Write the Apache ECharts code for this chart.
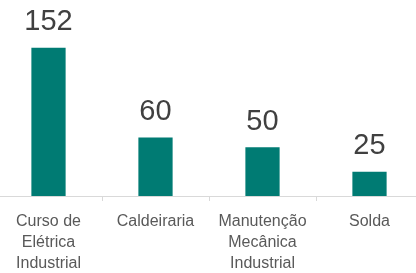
<!DOCTYPE html>
<html>
<head>
<meta charset="utf-8">
<script src="https://cdn.jsdelivr.net/npm/echarts@6/dist/echarts.min.js"></script>
<style>
  html, body { margin: 0; padding: 0; background: #fff; }
  #chart { width: 416px; height: 273px; }
</style>
</head>
<body>
<div id="chart"></div>
<script>
var categories = ['Curso de\nElétrica\nIndustrial', 'Caldeiraria', 'Manutenção\nMecânica\nIndustrial', 'Solda'];
var values = [152, 60, 50, 25];

var myChart = echarts.init(document.getElementById('chart'));

var option = {
    animation: false,
    grid: { left: -5, width: 428, top: 40, bottom: 77, outerBoundsMode: 'none', containLabel: false },
    xAxis: {
        type: 'category',
        data: categories,
        axisLine: { lineStyle: { color: '#d9d9d9', width: 1 } },
        axisTick: { show: true, alignWithLabel: false, length: 5, lineStyle: { color: '#d9d9d9' } },
        axisLabel: {
            color: '#595959',
            fontFamily: 'Liberation Sans',
            fontSize: 16,
            lineHeight: 21,
            margin: 15,
            interval: 0
        }
    },
    yAxis: {
        type: 'value',
        min: 0,
        max: 160,
        show: false,
        splitLine: { show: false }
    },
    series: [{
        type: 'bar',
        data: values,
        barWidth: '32%',
        itemStyle: { color: '#007B73' },
        label: {
            show: true,
            position: 'top',
            distance: 11,
            color: '#404040',
            fontFamily: 'Liberation Sans',
            fontSize: 29
        }
    }]
};

myChart.setOption(option);
</script>
</body>
</html>
